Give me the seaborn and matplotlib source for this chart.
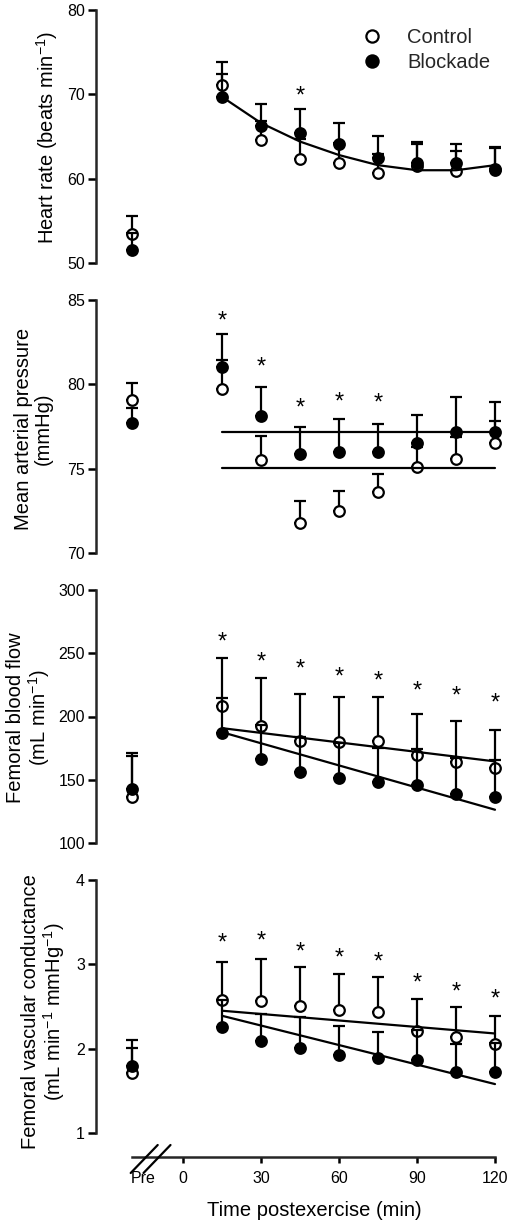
import numpy as np
import pandas as pd
import matplotlib
matplotlib.use("Agg")
import matplotlib.pyplot as plt
from matplotlib.lines import Line2D
import seaborn as sns

# ---------------- data ----------------
times = [15, 30, 45, 60, 75, 90, 105, 120]
groups = ["Control", "Blockade"]

# Heart rate (beats/min)
hr_pre_ctrl, hr_pre_ctrl_se = 53.4, 2.2
hr_pre_blk, hr_pre_blk_se = 51.5, 2.0
hr_ctrl = [71.1, 64.6, 62.3, 61.9, 60.7, 61.5, 60.9, 61.2]
hr_ctrl_se = [2.7, 2.2, 2.4, 2.3, 2.2, 2.6, 2.4, 2.4]
hr_blk = [69.7, 66.2, 65.4, 64.1, 62.5, 61.8, 61.8, 61.0]
hr_blk_se = [2.7, 2.6, 2.9, 2.5, 2.6, 2.5, 2.3, 2.8]
hr_fit_blk = [69.7, 66.6, 64.4, 62.8, 61.6, 61.0, 61.0, 61.6]
hr_star_t = [45]
hr_star_y = [70.7]

# Mean arterial pressure (mmHg)
map_pre_ctrl, map_pre_ctrl_se = 79.1, 1.0
map_pre_blk, map_pre_blk_se = 77.7, 0.9
map_ctrl = [79.7, 75.5, 71.8, 72.5, 73.6, 75.1, 75.6, 76.5]
map_ctrl_se = [1.75, 1.45, 1.3, 1.2, 1.1, 1.2, 1.3, 1.3]
map_blk = [81.05, 78.15, 75.86, 76.0, 76.0, 76.5, 77.2, 77.2]
map_blk_se = [1.95, 1.72, 1.64, 1.93, 1.66, 1.7, 2.04, 1.74]
map_fit_t = [15, 120]
map_fit_ctrl = [75.03, 75.03]
map_fit_blk = [77.2, 77.2]
map_star_t = [15, 30, 45, 60, 75]
map_star_y = [84.2, 81.45, 79.0, 79.4, 79.3]

# Femoral blood flow (mL/min)
fbf_pre_ctrl, fbf_pre_ctrl_se = 136.0, 35.0
fbf_pre_blk, fbf_pre_blk_se = 142.6, 26.0
fbf_ctrl = [208.4, 192.6, 181.0, 179.7, 181.0, 169.7, 164.0, 159.2]
fbf_ctrl_se = [37.6, 37.7, 36.6, 35.6, 34.3, 32.3, 32.8, 30.3]
fbf_blk = [187.0, 166.6, 155.8, 151.3, 147.9, 145.5, 139.0, 136.0]
fbf_blk_se = [27.5, 27.0, 28.0, 28.0, 27.0, 28.5, 28.0, 29.8]
fbf_fit_t = [15, 120]
fbf_fit_ctrl = [190.8, 164.5]
fbf_fit_blk = [187.6, 126.3]
fbf_star_t = times
fbf_star_y = [264.5, 249, 243, 237, 234, 226, 221.6, 216.3]

# Femoral vascular conductance (mL/min/mmHg)
fvc_pre_ctrl, fvc_pre_ctrl_se = 1.71, 0.30
fvc_pre_blk, fvc_pre_blk_se = 1.80, 0.305
fvc_ctrl = [2.58, 2.57, 2.50, 2.46, 2.44, 2.215, 2.14, 2.05]
fvc_ctrl_se = [0.445, 0.49, 0.47, 0.43, 0.415, 0.37, 0.35, 0.34]
fvc_blk = [2.26, 2.085, 2.006, 1.93, 1.89, 1.86, 1.72, 1.72]
fvc_blk_se = [0.32, 0.325, 0.37, 0.34, 0.31, 0.36, 0.33, 0.35]
fvc_fit_t = [15, 120]
fvc_fit_ctrl = [2.45, 2.18]
fvc_fit_blk = [2.39, 1.58]
fvc_star_t = times
fvc_star_y = [3.34, 3.36, 3.23, 3.16, 3.11, 2.86, 2.76, 2.67]

x_ticks = [0, 30, 60, 90, 120]
x_ticklabels = ["Pre", "0", "30", "60", "90", "120"]

# ---------------- style ----------------
sns.set_theme(style="ticks")
plt.rcParams["font.family"] = ["Liberation Sans", "DejaVu Sans"]
plt.rcParams["mathtext.fontset"] = "custom"
plt.rcParams["mathtext.rm"] = "Liberation Sans"
plt.rcParams["mathtext.it"] = "Liberation Sans:italic"
plt.rcParams["mathtext.bf"] = "Liberation Sans:bold"

W, H = 509, 1225
PRE_POS = -19.6
PRE_LABEL_POS = -15.4
XLIM = (-33.46, 123.46)
LW = 1.6
STAR_FS = 17

fig = plt.figure(figsize=(W / 100, H / 100), dpi=100)


def add_ax(top_px, height_px=253):
    return fig.add_axes([96 / W, 1 - (top_px + height_px) / H, 408 / W, height_px / H])


def build_df(pre_c, pre_c_se, pre_b, pre_b_se, c, c_se, b, b_se):
    rows = []
    rows.append(dict(t=PRE_POS, v=pre_c, se=pre_c_se, g="Control"))
    rows.append(dict(t=PRE_POS, v=pre_b, se=pre_b_se, g="Blockade"))
    for t, v, s in zip(times, c, c_se):
        rows.append(dict(t=t, v=v, se=s, g="Control"))
    for t, v, s in zip(times, b, b_se):
        rows.append(dict(t=t, v=v, se=s, g="Blockade"))
    return pd.DataFrame(rows)


def draw_panel(ax, df, fits, stars, ylim, yticks):
    dc = df[df.g == "Control"]
    db = df[df.g == "Blockade"]
    # control: upper error bars, then white-filled open circles
    ax.errorbar(dc.t, dc.v, yerr=[np.zeros(len(dc)), dc.se], fmt="none",
                ecolor="black", elinewidth=LW, capsize=4.2, capthick=LW,
                zorder=2, clip_on=False)
    sns.scatterplot(data=dc, x="t", y="v", ax=ax, marker="o", s=58,
                    facecolor="white", edgecolor="black", linewidth=1.6,
                    zorder=3, clip_on=False, legend=False)
    # blockade error bars and fitted lines above the open circles
    ax.errorbar(db.t, db.v, yerr=[np.zeros(len(db)), db.se], fmt="none",
                ecolor="black", elinewidth=LW, capsize=4.2, capthick=LW,
                zorder=4, clip_on=False)
    for ft, fy in fits:
        sns.lineplot(x=ft, y=fy, color="black", lw=LW, ax=ax, zorder=4)
    sns.scatterplot(data=db, x="t", y="v", ax=ax, marker="o", s=58,
                    color="black", edgecolor="black", linewidth=1.6,
                    zorder=5, clip_on=False, legend=False)
    # significance stars (glyph centred on the value)
    for st, sy in zip(*stars):
        ax.annotate("*", (st, sy), xytext=(0, -0.58 * STAR_FS), textcoords="offset points",
                    ha="center", va="baseline", fontsize=STAR_FS, color="black")
    ax.set_xlim(*XLIM)
    ax.set_ylim(*ylim)
    ax.set_yticks(yticks)
    ax.set_yticklabels([str(v) for v in yticks])
    ax.set_xlabel("")
    ax.set_ylabel("")
    for sp in ["top", "right"]:
        ax.spines[sp].set_visible(False)
    ax.spines["left"].set_linewidth(1.8)
    ax.tick_params(axis="y", direction="out", length=5.5, width=1.8,
                   labelsize=11.5, pad=2.5, colors="black")
    ax.set_facecolor("none")


# panel 1
ax1 = add_ax(10)
df1 = build_df(hr_pre_ctrl, hr_pre_ctrl_se, hr_pre_blk, hr_pre_blk_se,
               hr_ctrl, hr_ctrl_se, hr_blk, hr_blk_se)
draw_panel(ax1, df1, [(times, hr_fit_blk)], (hr_star_t, hr_star_y), (50, 80), [50, 60, 70, 80])

# panel 2
ax2 = add_ax(300)
df2 = build_df(map_pre_ctrl, map_pre_ctrl_se, map_pre_blk, map_pre_blk_se,
               map_ctrl, map_ctrl_se, map_blk, map_blk_se)
draw_panel(ax2, df2, [(map_fit_t, map_fit_ctrl), (map_fit_t, map_fit_blk)],
           (map_star_t, map_star_y), (70, 85), [70, 75, 80, 85])

# panel 3
ax3 = add_ax(590)
df3 = build_df(fbf_pre_ctrl, fbf_pre_ctrl_se, fbf_pre_blk, fbf_pre_blk_se,
               fbf_ctrl, fbf_ctrl_se, fbf_blk, fbf_blk_se)
draw_panel(ax3, df3, [(fbf_fit_t, fbf_fit_ctrl), (fbf_fit_t, fbf_fit_blk)],
           (fbf_star_t, fbf_star_y), (100, 300), [100, 150, 200, 250, 300])

# panel 4
ax4 = add_ax(880)
df4 = build_df(fvc_pre_ctrl, fvc_pre_ctrl_se, fvc_pre_blk, fvc_pre_blk_se,
               fvc_ctrl, fvc_ctrl_se, fvc_blk, fvc_blk_se)
draw_panel(ax4, df4, [(fvc_fit_t, fvc_fit_ctrl), (fvc_fit_t, fvc_fit_blk)],
           (fvc_star_t, fvc_star_y), (1, 4), [1, 2, 3, 4])

for ax in (ax1, ax2, ax3):
    ax.spines["bottom"].set_visible(False)
    ax.set_xticks([])

ax4.spines["bottom"].set_position(("outward", 24 * 0.72))
ax4.spines["bottom"].set_bounds(PRE_POS, 120)
ax4.spines["bottom"].set_linewidth(1.8)
ax4.set_xticks([PRE_LABEL_POS] + x_ticks)
ax4.set_xticklabels(x_ticklabels)
ax4.tick_params(axis="x", direction="out", length=4.3, width=1.8,
                labelsize=11.5, pad=5.5, colors="black")
ax4.xaxis.get_major_ticks()[0].tick1line.set_visible(False)

# axis break marks
for x0 in (130.7, 143.5):
    fig.add_artist(Line2D([x0 / W, (x0 + 27) / W], [1 - 1173 / H, 1 - 1145 / H],
                          color="black", lw=1.6))

# y labels
inv = r"$\mathregular{^{-1}}$"
ylabels = [
    ("Heart rate (beats min" + inv + ")", 47.5, 137),
    ("Mean arterial pressure\n(mmHg)", 33, 429),
    ("Femoral blood flow\n(mL min" + inv + ")", 29, 718),
    ("Femoral vascular conductance\n(mL min" + inv + " mmHg" + inv + ")", 44, 1012),
]
for txt, xp, yp in ylabels:
    fig.text(xp / W, 1 - yp / H, txt, rotation=90, ha="center", va="center",
             fontsize=14.5, linespacing=1.05, multialignment="center", color="black")

fig.text(314 / W, 1 - 1211 / H, "Time postexercise (min)", ha="center", va="center",
         fontsize=14.5, color="black")

# legend
handles = [
    Line2D([], [], ls="", marker="o", ms=8.8, mfc="white", mec="black", mew=1.6),
    Line2D([], [], ls="", marker="o", ms=8.8, mfc="black", mec="black", mew=1.6),
]
leg = ax1.legend(handles, groups, loc="upper left", frameon=False, fontsize=14.5,
                 bbox_to_anchor=(362 / W, 1 - 28 / H), bbox_transform=fig.transFigure,
                 handlelength=1.0, handletextpad=1.25, labelspacing=0.32,
                 borderpad=0, borderaxespad=0)

fig.savefig("out.png", dpi=100, facecolor="white")
